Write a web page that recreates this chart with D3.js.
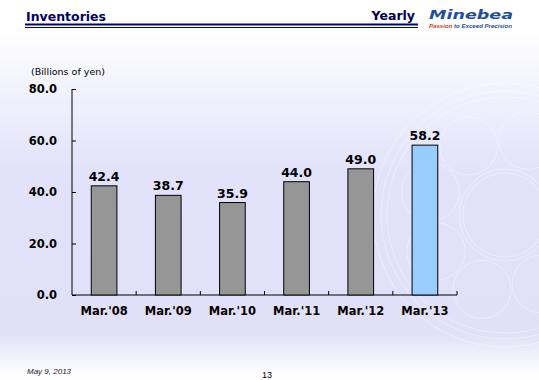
<!DOCTYPE html>
<html><head><meta charset="utf-8">
<script src="https://cdn.jsdelivr.net/npm/d3@7"></script>
<style>html,body{margin:0;padding:0;background:#fff;}svg{display:block;}</style>
</head><body>
<script>
const categories = ["Mar.'08","Mar.'09","Mar.'10","Mar.'11","Mar.'12","Mar.'13"];
const values = [42.4, 38.7, 35.9, 44.0, 49.0, 58.2];
const yTicks = [0, 20, 40, 60, 80];

const W = 539, H = 380;
const svg = d3.select("body").append("svg").attr("width", W).attr("height", H);
const defs = svg.append("defs");
const g1 = defs.append("linearGradient").attr("id","bg").attr("x1",0).attr("x2",0).attr("y1",0).attr("y2",1);
[[0,"#ffffff"],[0.08,"#ffffff"],[0.16,"#f8f8fe"],[0.45,"#e2e2fa"],[0.88,"#e0e0f8"],[0.97,"#fbfbff"],[1,"#ffffff"]]
  .forEach(([o,c])=>g1.append("stop").attr("offset",o).attr("stop-color",c));
svg.append("rect").attr("width",W).attr("height",H).attr("fill","url(#bg)");

// faint bearing watermark
const wm = svg.append("g").attr("fill","none").attr("stroke","#ffffff").attr("stroke-opacity",0.45).attr("stroke-width",0.8);
const cx = 505, cy = 215;
[118,124,132].forEach(r=>wm.append("circle").attr("cx",cx).attr("cy",cy).attr("r",r));
[42,46].forEach(r=>wm.append("circle").attr("cx",cx).attr("cy",cy).attr("r",r));
for (let i=0;i<8;i++){const a=i*Math.PI/4+0.3;wm.append("circle").attr("cx",cx+78*Math.cos(a)).attr("cy",cy+78*Math.sin(a)).attr("r",29);}

// header
svg.append("text").attr("x",26).attr("y",21).attr("font-family","DejaVu Sans").attr("font-weight","bold")
  .attr("font-size",12.5).attr("fill","#000066").text("Inventories");
svg.append("rect").attr("x",25).attr("y",23.5).attr("width",393).attr("height",2).attr("fill","#000080");
svg.append("rect").attr("x",25).attr("y",27).attr("width",393).attr("height",1).attr("fill","#000080");
svg.append("text").attr("x",415).attr("y",20).attr("text-anchor","end").attr("font-family","DejaVu Sans").attr("font-weight","bold")
  .attr("font-size",12.5).attr("fill","#000050").text("Yearly");
svg.append("text").attr("x",429).attr("y",18.5).attr("font-family","DejaVu Sans").attr("font-weight","bold").attr("font-style","italic")
  .attr("font-size",13).attr("fill","#1f4e9e").attr("textLength",84).attr("lengthAdjust","spacingAndGlyphs").text("Minebea");
const tag = svg.append("text").attr("x",429).attr("y",28).attr("font-family","Liberation Sans").attr("font-weight","bold").attr("font-style","italic")
  .attr("font-size",5.2).attr("textLength",83).attr("lengthAdjust","spacingAndGlyphs");
tag.append("tspan").attr("fill","#d2401c").text("Passion ");
tag.append("tspan").attr("fill","#1f4e9e").text("to Exceed Precision");

// chart
const x = d3.scaleBand().domain(categories).range([72, 457]).paddingInner(0.6).paddingOuter(0.3);
const y = d3.scaleLinear().domain([0, 80]).range([295, 89]);
const band = (457-72)/categories.length;

svg.append("text").attr("x",31).attr("y",75).attr("font-family","DejaVu Sans").attr("font-size",9.5)
  .attr("fill","#000").text("(Billions of yen)");

const yAxis = svg.append("g").attr("transform","translate(72,0)")
  .call(d3.axisRight(y).tickValues(yTicks).tickSize(4).tickFormat(d3.format(".1f")));
yAxis.select(".domain").attr("d","M0,"+y(80)+"V"+y(0)).attr("stroke","#000");
yAxis.selectAll(".tick line").attr("stroke","#000");
yAxis.selectAll(".tick text").attr("x",-15).attr("text-anchor","end").attr("font-family","DejaVu Sans")
  .attr("font-weight","bold").attr("font-size",11.5).attr("fill","#000");

// x axis with ticks at band boundaries
const xg = svg.append("g");
xg.append("line").attr("x1",72).attr("x2",457).attr("y1",295).attr("y2",295).attr("stroke","#000");
d3.range(1, categories.length+1).forEach(i=>{
  const xx = 72 + i*band;
  xg.append("line").attr("x1",xx).attr("x2",xx).attr("y1",295).attr("y2",291).attr("stroke","#000");
});
const xAxis = svg.append("g").attr("transform","translate(0,295)").call(d3.axisBottom(x).tickSize(0));
xAxis.select(".domain").remove();
xAxis.selectAll(".tick text").attr("dy",0).attr("y",20).attr("font-family","DejaVu Sans").attr("font-weight","bold")
  .attr("font-size",11.5).attr("fill","#000");

svg.append("g").selectAll("rect").data(values).join("rect")
  .attr("x",(d,i)=>x(categories[i])).attr("width",x.bandwidth())
  .attr("y",d=>y(d)).attr("height",d=>y(0)-y(d))
  .attr("fill",(d,i)=>i===values.length-1?"#99ccff":"#969696").attr("stroke","#000").attr("stroke-width",1);

svg.append("g").selectAll("text").data(values).join("text")
  .attr("x",(d,i)=>x(categories[i])+x.bandwidth()/2).attr("y",d=>y(d)-5)
  .attr("text-anchor","middle").attr("font-family","DejaVu Sans").attr("font-weight","bold").attr("font-size",12.5)
  .attr("fill","#000").text(d=>d.toFixed(1));

// footer
svg.append("text").attr("x",27).attr("y",374).attr("font-family","Liberation Sans").attr("font-style","italic")
  .attr("font-size",8).attr("fill","#222").text("May 9, 2013");
svg.append("text").attr("x",267).attr("y",378).attr("text-anchor","middle").attr("font-family","Liberation Sans")
  .attr("font-size",9).attr("fill","#000").text("13");
</script>
</body></html>
